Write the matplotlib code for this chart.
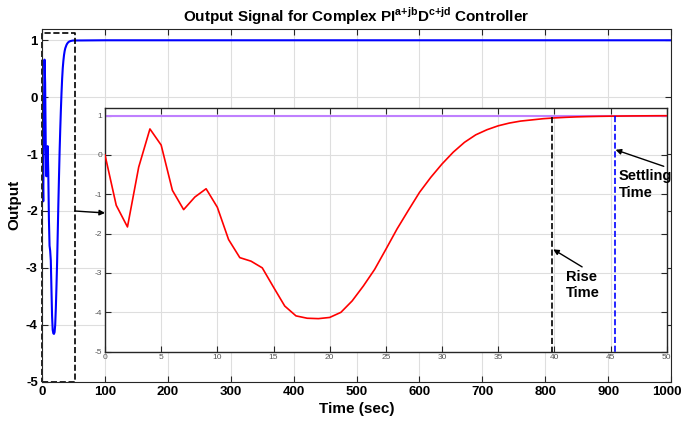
import matplotlib
matplotlib.use("Agg")
import matplotlib.pyplot as plt
import matplotlib.transforms as mtransforms
import numpy as np

plt.rcParams['font.family'] = ['Liberation Sans', 'DejaVu Sans']
plt.rcParams['mathtext.fontset'] = 'custom'
plt.rcParams['mathtext.bf'] = 'Liberation Sans:bold'
plt.rcParams['mathtext.rm'] = 'Liberation Sans:bold'
plt.rcParams['axes.unicode_minus'] = False

# Response samples (time in sec, output)
t_early = [0, 1, 2, 3, 4, 5, 6, 7, 8, 9, 10, 11, 12, 13, 14, 15, 16, 17, 18, 19, 20,
           21, 22, 23, 24, 25, 26, 27, 28, 29, 30, 31, 32, 33, 34, 35, 36, 37, 38, 39,
           40, 41, 42, 43, 44, 45, 46, 47, 48, 49, 50]
y_early = [0.0, -1.28, -1.83, -0.31, 0.66, 0.25, -0.90, -1.39, -1.07, -0.86, -1.33,
           -2.15, -2.61, -2.70, -2.87, -3.36, -3.84, -4.09, -4.15, -4.16, -4.13,
           -4.00, -3.71, -3.33, -2.91, -2.40, -1.88, -1.41, -0.95, -0.57, -0.23,
           0.07, 0.32, 0.51, 0.64, 0.74, 0.81, 0.86, 0.89, 0.92, 0.94, 0.955, 0.967,
           0.975, 0.981, 0.985, 0.988, 0.991, 0.993, 0.995, 0.996]
t_late = [100, 200, 300, 400, 500, 600, 700, 800, 900, 1000]
y_late = [1.0, 1.0, 1.0, 1.0, 1.0, 1.0, 1.0, 1.0, 1.0, 1.0]
reference = 1.0
rise_time = 39.8
settling_time = 45.4

t_all = t_early + t_late
y_all = y_early + y_late

fig = plt.figure(figsize=(6.84, 4.25), dpi=100)
ax = fig.add_axes([0.0614, 0.1019, 0.9196, 0.8301])
ax.plot(t_all, y_all, color='#0000FF', lw=1.5)
ax.set_xlim(0, 1000)
ax.set_ylim(-5, 1.2)
ax.set_xticks(range(0, 1001, 100))
ax.set_yticks(range(-5, 2))
ax.grid(True, color='#dedede', lw=0.8)
ax.tick_params(direction='in', top=True, right=True, length=4, labelsize=9.5,
               colors='#262626', pad=3)
for lab in ax.get_xticklabels() + ax.get_yticklabels():
    lab.set_fontweight('bold')
    lab.set_color('black')
last = ax.get_xticklabels()[-1]
last.set_transform(last.get_transform() +
                   mtransforms.ScaledTranslation(-4 / 100, 0, fig.dpi_scale_trans))
for s in ax.spines.values():
    s.set_color('#262626')
ax.set_xlabel('Time (sec)', fontsize=11, fontweight='bold', labelpad=3)
ax.set_ylabel('Output', fontsize=11, fontweight='bold', labelpad=3)
ax.set_title(r'Output Signal for Complex PI$^{\mathbf{a{+}jb}}$D$^{\mathbf{c{+}jd}}$ Controller',
             fontsize=11, fontweight='bold', pad=5)

# dashed zoom box
box_x = [0, 52, 52, 0, 0]
box_y = [-5, -5, 1.12, 1.12, -5]
ax.plot(box_x, box_y, color='black', ls='--', lw=1.2, clip_on=False)

# inset
ins = fig.add_axes([0.1535, 0.1725, 0.8212, 0.5741])
ins.plot(t_early, y_early, color='#FF0000', lw=1.2, zorder=3)
ins.axhline(reference, color='#BF80FF', lw=1.5, zorder=2)
ins.plot([rise_time, rise_time], [0.97, -5], color='black', ls='--', lw=1.2, zorder=4)
ins.plot([settling_time, settling_time], [1.0, -5], color='#0000FF', ls='--', lw=1.2, zorder=4)
ins.set_xlim(0, 50)
ins.set_ylim(-5, 1.2)
ins.set_xticks(range(0, 51, 5))
ins.set_yticks(range(-5, 2))
ins.grid(True, color='#dedede', lw=0.8)
ins.tick_params(direction='in', top=True, right=True, length=4, labelsize=6,
                colors='#262626', labelcolor='#555555', pad=2)
for s in ins.spines.values():
    s.set_color('#262626')
    s.set_linewidth(1.0)

ins.annotate('Rise\nTime', xy=(39.9, -2.4), xytext=(41.0, -3.3),
             fontsize=10.5, fontweight='bold', ha='left', va='center',
             arrowprops=dict(arrowstyle='-|>', color='black', lw=1.0,
                             shrinkA=0, shrinkB=0, mutation_scale=8,
                             relpos=(0.55, 1.05)))
ins.annotate('Settling\nTime', xy=(45.45, 0.13), xytext=(45.7, -0.75),
             fontsize=10.5, fontweight='bold', ha='left', va='center',
             arrowprops=dict(arrowstyle='-|>', color='black', lw=1.0,
                             shrinkA=0, shrinkB=0, mutation_scale=8,
                             relpos=(0.85, 1.1)))

# arrow from zoom box to inset
ax.annotate('', xy=(0.1535, 0.4988), xycoords='figure fraction',
            xytext=(52, -2), textcoords='data',
            arrowprops=dict(arrowstyle='-|>', color='black', lw=1.0,
                            shrinkA=0, shrinkB=0, mutation_scale=8))

fig.savefig('out.png', dpi=100)
